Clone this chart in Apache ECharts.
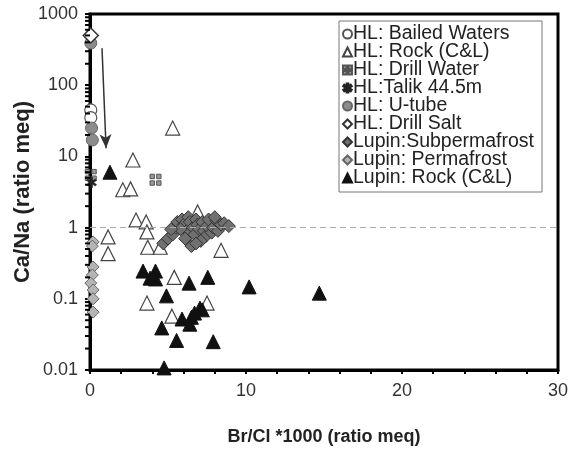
<!DOCTYPE html>
<html>
<head>
<meta charset="utf-8">
<script src="https://cdn.jsdelivr.net/npm/echarts@6/dist/echarts.min.js"></script>
<style>
  html, body { margin: 0; padding: 0; background: #fff; }
  #chart { width: 571px; height: 456px; }
</style>
</head>
<body>
<div id="chart"></div>
<script>
// ===== datos =====
const hlBailed = [[0.05, 45], [0.05, 35]];
const hlRock = [
  [5.3, 25], [2.75, 8.9], [2.1, 3.4], [2.6, 3.5], [2.95, 1.28], [3.6, 1.2], [3.65, 0.87],
  [1.16, 0.74], [1.16, 0.43], [3.7, 0.53], [4.5, 0.53], [6.9, 1.66], [8.4, 0.48],
  [5.4, 0.2], [3.65, 0.087], [5.25, 0.057], [7.5, 0.087]
];
const hlDrillWater = [[0.05, 5.5], [4.2, 4.7]];
const hlTalik = [[0.1, 4.3]];
const hlUtube = [[0.1, 25], [0.15, 17], [0.05, 390]];
const hlDrillSalt = [[0.05, 500]];
const lupinSub = [
  [4.7, 0.6], [5.0, 0.7], [5.3, 0.8], [5.5, 1.0], [5.6, 1.2], [5.9, 1.3], [6.0, 1.1],
  [6.2, 0.9], [6.3, 1.4], [6.4, 1.2], [6.6, 1.0], [6.7, 0.8], [6.8, 1.3], [6.9, 1.1],
  [7.0, 0.95], [7.2, 1.2], [7.3, 0.9], [7.4, 0.75], [7.5, 1.05], [7.6, 1.3], [7.8, 0.85],
  [7.9, 1.0], [8.1, 1.25], [8.2, 0.9], [8.4, 1.1], [8.6, 1.15], [8.9, 1.05], [6.1, 0.7],
  [6.5, 0.55], [5.8, 0.95], [7.1, 0.65], [8.0, 1.4], [5.2, 0.95], [6.8, 0.6]
];
const lupinPerma = [
  [0.2, 0.63], [0.15, 0.55], [0.2, 0.28], [0.15, 0.216], [0.05, 0.166], [0.2, 0.133],
  [0.2, 0.1], [0.2, 0.065]
];
const lupinRock = [
  [1.28, 6.0], [3.4, 0.245], [4.2, 0.245], [3.85, 0.195], [4.2, 0.19], [4.9, 0.11],
  [6.35, 0.166], [7.55, 0.2], [10.2, 0.147], [4.6, 0.039], [5.9, 0.052], [6.4, 0.044],
  [6.5, 0.055], [6.7, 0.063], [7.05, 0.074], [7.2, 0.07], [5.55, 0.026], [7.9, 0.025],
  [4.75, 0.0107], [14.7, 0.12]
];
// flecha y línea de referencia
const arrow = [[0.77, 330], [1.03, 13]];
const refY = 1;
// marcas menores del eje log (2..9 por década)
const minorY = [];
[0.01, 0.1, 1, 10, 100].forEach(d => { for (let k = 2; k <= 9; k++) minorY.push(d * k); });

const FONT = '"Liberation Sans", Arial, sans-serif';
const sq = 'path://M0,0H4V4H0Z M6,0H10V4H6Z M0,6H4V10H0Z M6,6H10V10H6Z';
const star = 'path://M4,0H6V3.3L8.6,1.4L9.8,3L7,5L9.8,7L8.6,8.6L6,6.7V10H4V6.7L1.4,8.6L0.2,7L3,5L0.2,3L1.4,1.4L4,3.3Z';

function sc(name, data, symbol, size, fill, border, bw) {
  return {
    name, type: 'scatter', data, symbol, symbolSize: size, clip: false,
    itemStyle: { color: fill, borderColor: border, borderWidth: bw, opacity: 1 },
    emphasis: { disabled: true }
  };
}

const chart = echarts.init(document.getElementById('chart'), null, { renderer: 'canvas' });
const series = [
  {
    type: 'custom', silent: true, clip: false, data: minorY.map(v => [0, v]), z: 10,
    renderItem: (params, api) => {
      const p = api.coord([0, api.value(1)]);
      return { type: 'line', shape: { x1: p[0] - 5, y1: p[1], x2: p[0], y2: p[1] },
        style: { stroke: '#000', lineWidth: 2 } };
    }
  },
  Object.assign(sc('HL: Bailed Waters', hlBailed, 'circle', 12, '#fff', '#555', 1.2), {
    markLine: {
      silent: true, symbol: ['none', 'none'], label: { show: false },
      lineStyle: { color: '#aaa', type: [6, 4], width: 1.2 },
      data: [{ yAxis: refY }]
    }
  }),
  sc('HL: Rock (C&L)', hlRock, 'triangle', 14, '#fff', '#444', 1.2),
  sc('HL: Drill Water', hlDrillWater, sq, 11, '#999', '#555', 1),
  sc('HL:Talik 44.5m', hlTalik, star, 10, '#222', '#222', 0.5),
  sc('HL: U-tube', hlUtube, 'circle', 12, '#8c8c8c', '#666', 1),
  Object.assign(sc('HL: Drill Salt', hlDrillSalt, 'diamond', 15, '#fff', '#333', 1.5), {
    markLine: {
      silent: true, symbol: ['none', 'arrow'], symbolSize: [9, 14], label: { show: false },
      lineStyle: { color: '#333', type: 'solid', width: 1.5 },
      data: [[{ coord: arrow[0] }, { coord: arrow[1] }]]
    }
  }),
  sc('Lupin:Subpermafrost', lupinSub, 'diamond', 13, '#707070', '#333', 1),
  sc('Lupin: Permafrost', lupinPerma, 'diamond', 12, '#b4b4b4', '#666', 1),
  sc('Lupin: Rock (C&L)', lupinRock, 'triangle', 14, '#111', '#111', 1)
];

chart.setOption({
  backgroundColor: '#fff',
  animation: false,
  textStyle: { fontFamily: FONT },
  grid: {
    left: 90, right: 13, top: 14, bottom: 86, outerBoundsMode: 'none', containLabel: false,
    show: true, borderColor: '#000', borderWidth: 3, backgroundColor: 'transparent'
  },
  legend: {
    orient: 'vertical', left: 339, top: 21, itemGap: -2, itemWidth: 9, itemHeight: 9,
    padding: [3, 8, 4, 3], borderColor: '#777', borderWidth: 1, backgroundColor: '#fff',
    selectedMode: false,
    textStyle: { fontSize: 19.5, lineHeight: 18, color: '#222', fontFamily: FONT, padding: [0, 0, 0, -4] },
    data: series.slice(1).map(s => s.name)
  },
  xAxis: {
    type: 'value', min: 0, max: 30, interval: 10,
    name: 'Br/Cl *1000 (ratio meq)', nameLocation: 'middle', nameGap: 58, nameMoveOverlap: false,
    nameTextStyle: { fontSize: 18, fontWeight: 'bold', color: '#222' },
    axisLine: { show: true, lineStyle: { color: '#000', width: 3 } },
    axisTick: { show: true, length: 4, lineStyle: { color: '#000', width: 2 } },
    minorTick: { show: true, splitNumber: 5, length: 4, lineStyle: { color: '#000', width: 2 } },
    axisLabel: { fontSize: 18, color: '#333', margin: 12 },
    splitLine: { show: false }
  },
  yAxis: {
    type: 'log', logBase: 10, min: 0.01, max: 1000,
    name: 'Ca/Na (ratio meq)', nameLocation: 'middle', nameGap: 56, nameMoveOverlap: false,
    nameTextStyle: { fontSize: 22, fontWeight: 'bold', color: '#222' },
    axisLine: { show: true, lineStyle: { color: '#000', width: 3 } },
    axisTick: { show: true, length: 5, lineStyle: { color: '#000', width: 2 } },
    axisLabel: { fontSize: 18, color: '#333', margin: 12,
      formatter: v => String(+v.toPrecision(3)) },
    splitLine: { show: false }
  },
  series
});
</script>
</body>
</html>
